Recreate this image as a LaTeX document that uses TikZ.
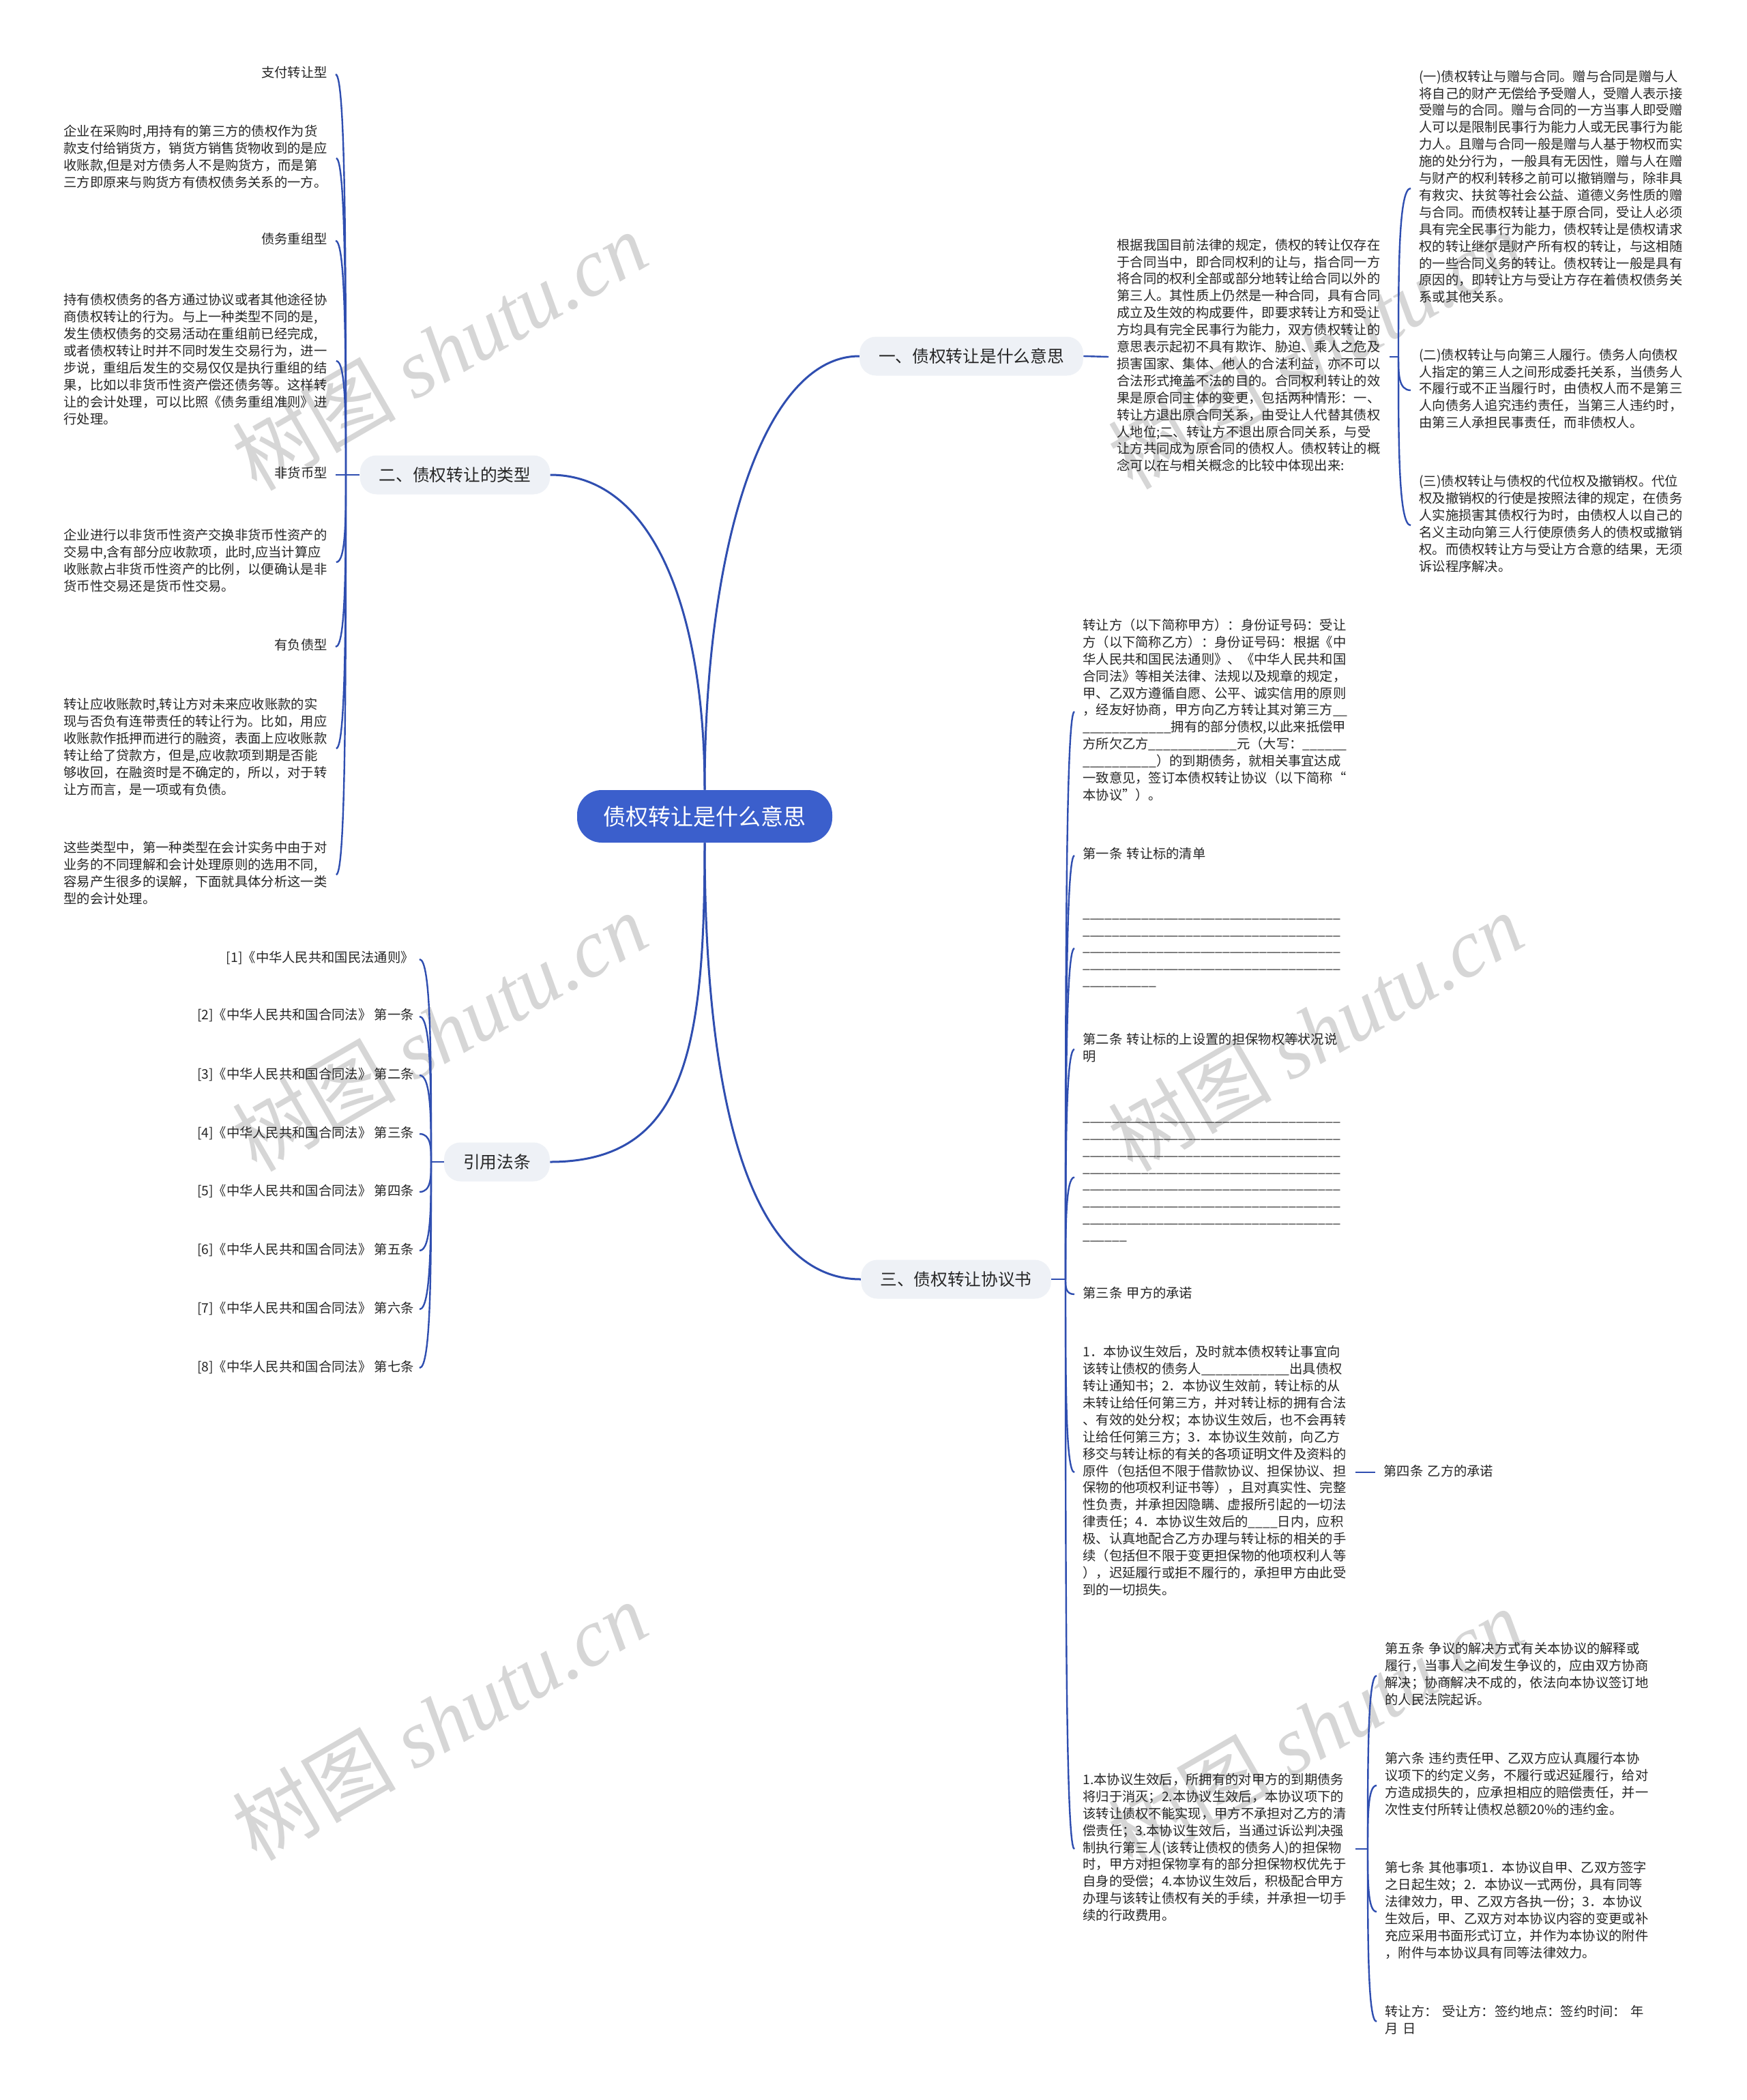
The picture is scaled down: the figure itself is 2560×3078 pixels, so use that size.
\documentclass[tikz,border=0pt]{standalone}
\usepackage{fontspec}
\setmainfont{Noto Sans CJK SC}
\newfontfamily\wmser{Liberation Serif}
\usetikzlibrary{calc}
\definecolor{linkc}{HTML}{2F4EB0}
\definecolor{ctrc}{HTML}{3B5FCC}
\definecolor{lvc}{HTML}{EEF1F6}
\definecolor{txtc}{HTML}{262626}
\definecolor{wmc}{HTML}{D6D6D6}
\newcommand\pfont{\fontsize{9.65pt}{12.45pt}\selectfont}
\ExplSyntaxOn
\NewDocumentCommand\uln{m}{\prg_replicate:nn{#1}{\symbol{95}}}
\ExplSyntaxOff
\newcommand\hk[2]{\draw[link] let \p1=(#1), \p2=(#2) in (\p1) .. controls (\x1,{0.5*\y1+0.5*\y2}) and (\x1,\y2) .. (\p2);}
\tikzset{
  link/.style={draw=linkc, line width=1.2pt},
  mainlink/.style={draw=linkc, line width=1.5pt},
  para/.style={anchor=west, inner xsep=6pt, inner ysep=0pt, align=left, text width=193.5pt, font=\pfont, text=txtc, execute at begin node=\strut, execute at end node=\strut},
  lbl/.style={anchor=east, inner xsep=6pt, inner ysep=0pt, font=\pfont, text=txtc, execute at begin node=\strut},
  cite/.style={anchor=east, inner xsep=4pt, inner ysep=0pt, font=\pfont, text=txtc, execute at begin node=\strut},
  lvl/.style={fill=lvc, rounded corners=12pt, minimum height=28.5pt, inner xsep=14pt, inner ysep=0pt, font=\fontsize{12.35pt}{14pt}\selectfont, text=txtc},
  ctr/.style={fill=ctrc, rounded corners=18pt, minimum width=187pt, minimum height=38.5pt, inner ysep=0pt, font=\fontsize{16.5pt}{20pt}\selectfont, text=white},
  wm/.style={text=wmc, rotate=30, font=\fontsize{60pt}{60pt}\selectfont}
}
\begin{document}
\begin{tikzpicture}[x=0.5pt,y=-0.5pt]
\useasboundingbox (0,0) rectangle (2560,3078);
\fill[white] (0,0) rectangle (2560,3078);
% watermarks
\node[wm] (wm1) at (644,514) {树图~{\wmser\itshape shutu.cn}};
\node[wm] (wm2) at (644,1512) {树图~{\wmser\itshape shutu.cn}};
\node[wm] (wm3) at (1928,1512) {树图~{\wmser\itshape shutu.cn}};
\node[wm] (wm4) at (644,2522) {树图~{\wmser\itshape shutu.cn}};
\node[wm] (wm5) at (1928,2532) {树图~{\wmser\itshape shutu.cn}};
\node[wm] (wm6) at (1928,512) {树图~{\wmser\itshape shutu.cn}};

% main nodes
\node[ctr] (ctr) at (1033,1196.5) {债权转让是什么意思};
\node[lvl] (n1) at (1424,522) {一、债权转让是什么意思};
\node[lvl] (n2) at (667,696) {二、债权转让的类型};
\node[lvl] (n3) at (728.5,1703) {引用法条};
\node[lvl] (n4) at (1401.5,1875) {三、债权转让协议书};

% junctions
\coordinate (j1) at (2050,523);
\coordinate (j2) at (507,696);
\coordinate (jc) at (632,1703);
\coordinate (j3) at (1562,1875);
\coordinate (j8) at (2005,2710);

% branch 1
\node[para] (p0) at (1625,523) {根据我国目前法律的规定，债权的转让仅存在\\
于合同当中，即合同权利的让与，指合同一方\\
将合同的权利全部或部分地转让给合同以外的\\
第三人。其性质上仍然是一种合同，具有合同\\
成立及生效的构成要件，即要求转让方和受让\\
方均具有完全民事行为能力，双方债权转让的\\
意思表示起初不具有欺诈、胁迫、乘人之危及\\
损害国家、集体、他人的合法利益，亦不可以\\
合法形式掩盖不法的目的。合同权利转让的效\\
果是原合同主体的变更，包括两种情形：一、\\
转让方退出原合同关系，由受让人代替其债权\\
人地位;二、转让方不退出原合同关系，与受\\
让方共同成为原合同的债权人。债权转让的概\\
念可以在与相关概念的比较中体现出来:};
\node[para] (q1) at (2068,276) {(一)债权转让与赠与合同。赠与合同是赠与人\\
将自己的财产无偿给予受赠人，受赠人表示接\\
受赠与的合同。赠与合同的一方当事人即受赠\\
人可以是限制民事行为能力人或无民事行为能\\
力人。且赠与合同一般是赠与人基于物权而实\\
施的处分行为，一般具有无因性，赠与人在赠\\
与财产的权利转移之前可以撤销赠与，除非具\\
有救灾、扶贫等社会公益、道德义务性质的赠\\
与合同。而债权转让基于原合同，受让人必须\\
具有完全民事行为能力，债权转让是债权请求\\
权的转让继尔是财产所有权的转让，与这相随\\
的一些合同义务的转让。债权转让一般是具有\\
原因的，即转让方与受让方存在着债权债务关\\
系或其他关系。};
\node[para] (q2) at (2068,572) {(二)债权转让与向第三人履行。债务人向债权\\
人指定的第三人之间形成委托关系，当债务人\\
不履行或不正当履行时，由债权人而不是第三\\
人向债务人追究违约责任，当第三人违约时，\\
由第三人承担民事责任，而非债权人。};
\node[para] (q3) at (2068,770) {(三)债权转让与债权的代位权及撤销权。代位\\
权及撤销权的行使是按照法律的规定，在债务\\
人实施损害其债权行为时，由债权人以自己的\\
名义主动向第三人行使原债务人的债权或撤销\\
权。而债权转让方与受让方合意的结果，无须\\
诉讼程序解决。};

% branch 2
\node[lbl] (l1) at (492,109) {支付转让型};
\node[para] (l2) at (81,232) {企业在采购时,用持有的第三方的债权作为货\\
款支付给销货方，销货方销售货物收到的是应\\
收账款,但是对方债务人不是购货方，而是第\\
三方即原来与购货方有债权债务关系的一方。};
\node[lbl] (l3) at (492,353) {债务重组型};
\node[para] (l4) at (81,529) {持有债权债务的各方通过协议或者其他途径协\\
商债权转让的行为。与上一种类型不同的是,\\
发生债权债务的交易活动在重组前已经完成,\\
或者债权转让时并不同时发生交易行为，进一\\
步说，重组后发生的交易仅仅是执行重组的结\\
果，比如以非货币性资产偿还债务等。这样转\\
让的会计处理，可以比照《债务重组准则》进\\
行处理。};
\node[lbl] (l5) at (492,696) {非货币型};
\node[para] (l6) at (81,824) {企业进行以非货币性资产交换非货币性资产的\\
交易中,含有部分应收款项，此时,应当计算应\\
收账款占非货币性资产的比例，以便确认是非\\
货币性交易还是货币性交易。};
\node[lbl] (l7) at (492,948) {有负债型};
\node[para] (l8) at (81,1097) {转让应收账款时,转让方对未来应收账款的实\\
现与否负有连带责任的转让行为。比如，用应\\
收账款作抵押而进行的融资，表面上应收账款\\
转让给了贷款方，但是,应收款项到期是否能\\
够收回，在融资时是不确定的，所以，对于转\\
让方而言，是一项或有负债。};
\node[para] (l9) at (81,1282) {这些类型中，第一种类型在会计实务中由于对\\
业务的不同理解和会计处理原则的选用不同,\\
容易产生很多的误解，下面就具体分析这一类\\
型的会计处理。};

% citations
\node[cite] (c1) at (615,1406) {[1]《中华人民共和国民法通则》};
\node[cite] (c2) at (615,1490) {[2]《中华人民共和国合同法》 第一条};
\node[cite] (c3) at (615,1576) {[3]《中华人民共和国合同法》 第二条};
\node[cite] (c4) at (615,1662) {[4]《中华人民共和国合同法》 第三条};
\node[cite] (c5) at (615,1747) {[5]《中华人民共和国合同法》 第四条};
\node[cite] (c6) at (615,1833) {[6]《中华人民共和国合同法》 第五条};
\node[cite] (c7) at (615,1919) {[7]《中华人民共和国合同法》 第六条};
\node[cite] (c8) at (615,2005) {[8]《中华人民共和国合同法》 第七条};

% branch 3
\node[para] (r1) at (1575,1043) {转让方（以下简称甲方）：身份证号码：受让\\
方（以下简称乙方）：身份证号码：根据《中\\
华人民共和国民法通则》、《中华人民共和国\\
合同法》等相关法律、法规以及规章的规定，\\
甲、乙双方遵循自愿、公平、诚实信用的原则\\
，经友好协商，甲方向乙方转让其对第三方\uln{2}\\
\uln{12}拥有的部分债权,以此来抵偿甲\\
方所欠乙方\uln{12}元（大写：\uln{6}\\
\uln{10}）的到期债务，就相关事宜达成\\
一致意见，签订本债权转让协议（以下简称“\\
本协议”）。};
\node[para] (r2) at (1575,1254) {第一条~转让标的清单};
\node[para] (r3) at (1575,1390) {\uln{35}\\
\uln{35}\\
\uln{35}\\
\uln{35}\\
\uln{10}};
\node[para] (r4) at (1575,1538) {第二条~转让标的上设置的担保物权等状况说\\
明};
\node[para] (r5) at (1575,1725.5) {\uln{35}\\
\uln{35}\\
\uln{35}\\
\uln{35}\\
\uln{35}\\
\uln{35}\\
\uln{35}\\
\uln{6}};
\node[para] (r6) at (1575,1897) {第三条~甲方的承诺};
\node[para] (r7) at (1575,2158) {1．本协议生效后，及时就本债权转让事宜向\\
该转让债权的债务人\uln{12}出具债权\\
转让通知书；2．本协议生效前，转让标的从\\
未转让给任何第三方，并对转让标的拥有合法\\
、有效的处分权；本协议生效后，也不会再转\\
让给任何第三方；3．本协议生效前，向乙方\\
移交与转让标的有关的各项证明文件及资料的\\
原件（包括但不限于借款协议、担保协议、担\\
保物的他项权利证书等），且对真实性、完整\\
性负责，并承担因隐瞒、虚报所引起的一切法\\
律责任；4．本协议生效后的\uln{4}日内，应积\\
极、认真地配合乙方办理与转让标的相关的手\\
续（包括但不限于变更担保物的他项权利人等\\
），迟延履行或拒不履行的，承担甲方由此受\\
到的一切损失。};
\node[para] (r8) at (1575,2710) {1.本协议生效后，所拥有的对甲方的到期债务\\
将归于消灭；2.本协议生效后，本协议项下的\\
该转让债权不能实现，甲方不承担对乙方的清\\
偿责任；3.本协议生效后，当通过诉讼判决强\\
制执行第三人(该转让债权的债务人)的担保物\\
时，甲方对担保物享有的部分担保物权优先于\\
自身的受偿；4.本协议生效后，积极配合甲方\\
办理与该转让债权有关的手续，并承担一切手\\
续的行政费用。};
\node[para] (s4) at (2016,2158) {第四条~乙方的承诺};
\node[para] (s5) at (2018,2456) {第五条~争议的解决方式有关本协议的解释或\\
履行，当事人之间发生争议的，应由双方协商\\
解决；协商解决不成的，依法向本协议签订地\\
的人民法院起诉。};
\node[para] (s6) at (2018,2617) {第六条~违约责任甲、乙双方应认真履行本协\\
议项下的约定义务，不履行或迟延履行，给对\\
方造成损失的，应承担相应的赔偿责任，并一\\
次性支付所转让债权总额20\%的违约金。};
\node[para] (s7) at (2018,2802) {第七条~其他事项1．本协议自甲、乙双方签字\\
之日起生效；2．本协议一式两份，具有同等\\
法律效力，甲、乙双方各执一份；3．本协议\\
生效后，甲、乙双方对本协议内容的变更或补\\
充应采用书面形式订立，并作为本协议的附件\\
，附件与本协议具有同等法律效力。};
\node[para] (s8) at (2018,2963) {转让方：~受让方：签约地点：签约时间：~年\\
月~日};

% main connectors
\draw[mainlink] (ctr.north) .. controls +(0,-358) and +(-140,0) .. (n1.west);
\draw[mainlink] (ctr.north) .. controls +(0,-258) and +(153,0) .. (n2.east);
\draw[mainlink] (ctr.south) .. controls +(0,300) and +(200,0) .. (n3.east);
\draw[mainlink] (ctr.south) .. controls +(0,350) and +(-172,0) .. (n4.west);

% stubs
\draw[link] (n1.east) -- (p0.west);
\draw[link] (p0.east) -- (j1);
\draw[link] (n2.west) -- (j2);
\draw[link] (n3.west) -- (jc);
\draw[link] (n4.east) -- (j3);
\draw[link] (r7.east) -- (s4.west);
\draw[link] (r8.east) -- (j8);

% hooks
\hk{j1}{q1.west}\hk{j1}{q2.west}\hk{j1}{q3.west}
\hk{j2}{l1.east}\hk{j2}{l2.east}\hk{j2}{l3.east}\hk{j2}{l4.east}
\hk{j2}{l5.east}\hk{j2}{l6.east}\hk{j2}{l7.east}\hk{j2}{l8.east}\hk{j2}{l9.east}
\hk{jc}{c1.east}\hk{jc}{c2.east}\hk{jc}{c3.east}\hk{jc}{c4.east}
\hk{jc}{c5.east}\hk{jc}{c6.east}\hk{jc}{c7.east}\hk{jc}{c8.east}
\hk{j3}{r1.west}\hk{j3}{r2.west}\hk{j3}{r3.west}\hk{j3}{r4.west}
\hk{j3}{r5.west}\hk{j3}{r6.west}\hk{j3}{r7.west}\hk{j3}{r8.west}
\hk{j8}{s5.west}\hk{j8}{s6.west}\hk{j8}{s7.west}\hk{j8}{s8.west}
\end{tikzpicture}
\end{document}
